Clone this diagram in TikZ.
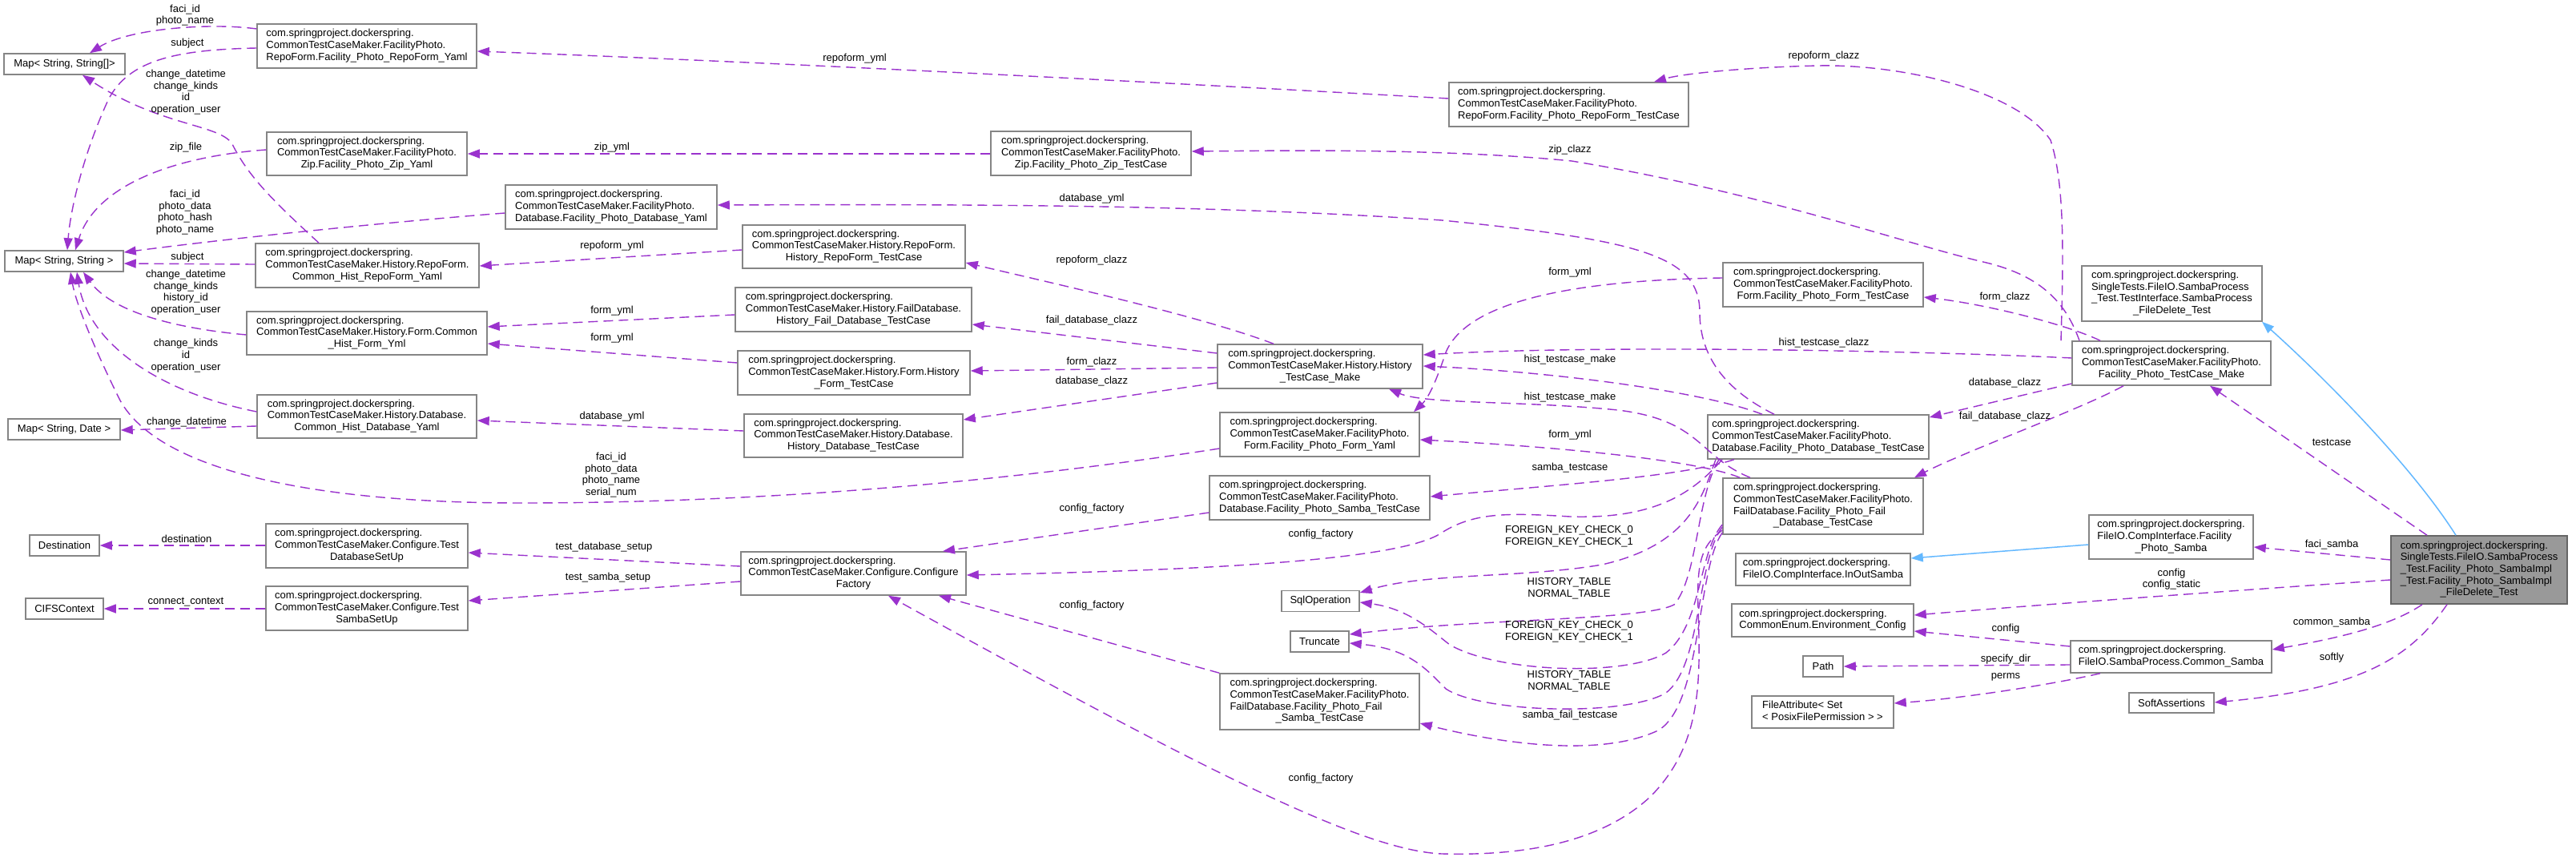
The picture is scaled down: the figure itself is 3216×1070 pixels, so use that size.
\documentclass[tikz,border=0pt]{standalone}
\usepackage{fontspec}
\setmainfont{Liberation Sans}
\usetikzlibrary{arrows.meta}
\definecolor{edgec}{HTML}{9A32CD}
\definecolor{inhc}{HTML}{63B8FF}
\definecolor{boxc}{HTML}{858585}
\definecolor{mainfill}{HTML}{999999}
\newcommand\nt[2]{\begin{tabular}{@{}l@{}}#1\\\multicolumn{1}{@{}c@{}}{#2}\end{tabular}}
\newcommand\fs{\fontsize{13}{14.7}\selectfont}
\begin{document}
\begin{tikzpicture}[x=1pt,y=-1pt,
 cbox/.style={draw=boxc, line width=1.5pt, fill=white, inner sep=0pt, font=\fs, anchor=center},
 mainbox/.style={cbox, fill=mainfill, draw=black!60},
 useedge/.style={draw=edgec, line width=1.4pt, dash pattern=on 12pt off 7pt, -{Triangle[length=15pt,width=11pt]}},
 inh/.style={draw=inhc, line width=1.5pt, -{Triangle[length=15pt,width=11pt]}},
 lbl/.style={font=\fs, align=center, inner sep=0pt}]
\fill[white] (0,0) rectangle (3216,1070);
\useasboundingbox (0,0) rectangle (3216,1070);

% ---------------- nodes ----------------
\node[cbox,minimum width=151pt,minimum height=26pt] (mapSS) at (80.5,80) {Map< String, String[]>};
\node[cbox,minimum width=148pt,minimum height=26pt] (mapS) at (80,326) {Map< String, String >};
\node[cbox,minimum width=140pt,minimum height=26pt] (mapD) at (80,536) {Map< String, Date >};
\node[cbox,minimum width=87pt,minimum height=26pt] (dest) at (80.5,681) {Destination};
\node[cbox,minimum width=97pt,minimum height=26pt] (cifs) at (80.5,760) {CIFSContext};

\node[cbox,minimum width=274pt,minimum height=55pt] (rfy) at (458,57.5) {\nt{com.springproject.dockerspring.\\CommonTestCaseMaker.FacilityPhoto.}{RepoForm.Facility\_Photo\_RepoForm\_Yaml}};
\node[cbox,minimum width=250pt,minimum height=54pt] (zipy) at (458,192) {\nt{com.springproject.dockerspring.\\CommonTestCaseMaker.FacilityPhoto.}{Zip.Facility\_Photo\_Zip\_Yaml}};
\node[cbox,minimum width=279pt,minimum height=55pt] (chry) at (458.5,331.5) {\nt{com.springproject.dockerspring.\\CommonTestCaseMaker.History.RepoForm.}{Common\_Hist\_RepoForm\_Yaml}};
\node[cbox,minimum width=300pt,minimum height=54pt] (chfy) at (458,416) {\nt{com.springproject.dockerspring.\\CommonTestCaseMaker.History.Form.Common}{\_Hist\_Form\_Yml}};
\node[cbox,minimum width=274pt,minimum height=54pt] (chdy) at (458,520) {\nt{com.springproject.dockerspring.\\CommonTestCaseMaker.History.Database.}{Common\_Hist\_Database\_Yaml}};
\node[cbox,minimum width=252pt,minimum height=55pt] (tdsu) at (458,681.5) {\nt{com.springproject.dockerspring.\\CommonTestCaseMaker.Configure.Test}{DatabaseSetUp}};
\node[cbox,minimum width=252pt,minimum height=55pt] (tssu) at (458,759.5) {\nt{com.springproject.dockerspring.\\CommonTestCaseMaker.Configure.Test}{SambaSetUp}};

\node[cbox,minimum width=264pt,minimum height=55pt] (fdby) at (763,258.5) {\nt{com.springproject.dockerspring.\\CommonTestCaseMaker.FacilityPhoto.}{Database.Facility\_Photo\_Database\_Yaml}};

\node[cbox,minimum width=278pt,minimum height=54pt] (hrtc) at (1066,308) {\nt{com.springproject.dockerspring.\\CommonTestCaseMaker.History.RepoForm.}{History\_RepoForm\_TestCase}};
\node[cbox,minimum width=295pt,minimum height=55pt] (hfdtc) at (1065.5,386.5) {\nt{com.springproject.dockerspring.\\CommonTestCaseMaker.History.FailDatabase.}{History\_Fail\_Database\_TestCase}};
\node[cbox,minimum width=290pt,minimum height=55pt] (hftc) at (1066,465.5) {\nt{com.springproject.dockerspring.\\CommonTestCaseMaker.History.Form.History}{\_Form\_TestCase}};
\node[cbox,minimum width=273pt,minimum height=54pt] (hdtc) at (1065.5,544) {\nt{com.springproject.dockerspring.\\CommonTestCaseMaker.History.Database.}{History\_Database\_TestCase}};
\node[cbox,minimum width=281pt,minimum height=54pt] (cf) at (1065.5,716) {\nt{com.springproject.dockerspring.\\CommonTestCaseMaker.Configure.Configure}{Factory}};

\node[cbox,minimum width=250pt,minimum height=55pt] (ziptc) at (1362,191.5) {\nt{com.springproject.dockerspring.\\CommonTestCaseMaker.FacilityPhoto.}{Zip.Facility\_Photo\_Zip\_TestCase}};

\node[cbox,minimum width=256pt,minimum height=55pt] (htm) at (1648,457.5) {\nt{com.springproject.dockerspring.\\CommonTestCaseMaker.History.History}{\_TestCase\_Make}};
\node[cbox,minimum width=249pt,minimum height=55pt] (fpfy) at (1647.5,542.5) {\nt{com.springproject.dockerspring.\\CommonTestCaseMaker.FacilityPhoto.}{Form.Facility\_Photo\_Form\_Yaml}};
\node[cbox,minimum width=275pt,minimum height=55pt] (fpstc) at (1647.5,621.5) {\nt{com.springproject.dockerspring.\\CommonTestCaseMaker.FacilityPhoto.}{Database.Facility\_Photo\_Samba\_TestCase}};
\node[cbox,minimum width=97pt,minimum height=26pt] (sqlop) at (1648.5,750.5) {SqlOperation};
\node[cbox,minimum width=73pt,minimum height=26pt] (trunc) at (1647.5,801) {Truncate};
\node[cbox,minimum width=249pt,minimum height=70pt] (fbstc) at (1647.5,876) {\nt{com.springproject.dockerspring.\\CommonTestCaseMaker.FacilityPhoto.\\FailDatabase.Facility\_Photo\_Fail}{\_Samba\_TestCase}};

\node[cbox,minimum width=299pt,minimum height=55pt] (rftc) at (1958.5,130.5) {\nt{com.springproject.dockerspring.\\CommonTestCaseMaker.FacilityPhoto.}{RepoForm.Facility\_Photo\_RepoForm\_TestCase}};

\node[cbox,minimum width=250pt,minimum height=55pt] (fftc) at (2276,355.5) {\nt{com.springproject.dockerspring.\\CommonTestCaseMaker.FacilityPhoto.}{Form.Facility\_Photo\_Form\_TestCase}};
\node[cbox,minimum width=276pt,minimum height=55pt] (fdtc) at (2270,545.5) {\nt{com.springproject.dockerspring.\\CommonTestCaseMaker.FacilityPhoto.}{Database.Facility\_Photo\_Database\_TestCase}};
\node[cbox,minimum width=250pt,minimum height=70pt] (ffdtc) at (2276,632) {\nt{com.springproject.dockerspring.\\CommonTestCaseMaker.FacilityPhoto.\\FailDatabase.Facility\_Photo\_Fail}{\_Database\_TestCase}};
\node[cbox,minimum width=218pt,minimum height=40pt] (ios) at (2276,711) {\nt{com.springproject.dockerspring.}{FileIO.CompInterface.InOutSamba}};
\node[cbox,minimum width=227pt,minimum height=41pt] (env) at (2275.5,774.5) {\nt{com.springproject.dockerspring.}{CommonEnum.Environment\_Config}};
\node[cbox,minimum width=50pt,minimum height=26pt] (path) at (2276,832) {Path};
\node[cbox,minimum width=177pt,minimum height=40pt] (fattr) at (2275.5,889) {\nt{FileAttribute< Set}{< PosixFilePermission > >}};

\node[cbox,minimum width=225pt,minimum height=69pt] (sfdt) at (2711.5,366.5) {\nt{com.springproject.dockerspring.\\SingleTests.FileIO.SambaProcess\\\_Test.TestInterface.SambaProcess}{\_FileDelete\_Test}};
\node[cbox,minimum width=248pt,minimum height=55pt] (fptm) at (2711,453.5) {\nt{com.springproject.dockerspring.\\CommonTestCaseMaker.FacilityPhoto.}{Facility\_Photo\_TestCase\_Make}};
\node[cbox,minimum width=205pt,minimum height=55pt] (fps) at (2710.5,670.5) {\nt{com.springproject.dockerspring.\\FileIO.CompInterface.Facility}{\_Photo\_Samba}};
\node[cbox,minimum width=251pt,minimum height=40pt] (cs) at (2710.5,820) {\nt{com.springproject.dockerspring.}{FileIO.SambaProcess.Common\_Samba}};
\node[cbox,minimum width=106pt,minimum height=25pt] (sa) at (2711,877.5) {SoftAssertions};

\node[mainbox,minimum width=220pt,minimum height=85pt] (main) at (3095,711.5) {\nt{com.springproject.dockerspring.\\SingleTests.FileIO.SambaProcess\\\_Test.Facility\_Photo\_SambaImpl\\\_Test.Facility\_Photo\_SambaImpl}{\_FileDelete\_Test}};

% ---------------- edges ----------------
\draw[useedge] (rfy.west |- 0,36) .. controls (260,28) and (160,36) .. (112,0 |- mapSS.north);
\draw[useedge] (rfy.west |- 0,60) .. controls (220,62) and (160,75) .. (135,125) .. controls (105,190) and (88,260) .. (84,0 |- mapS.north);
\draw[useedge] (398,0 |- chry.north) .. controls (340,250) and (310,220) .. (290,180) .. controls (275,155) and (200,158) .. (103,0 |- mapSS.south);
\draw[useedge] (zipy.west |- 0,187) .. controls (220,195) and (120,230) .. (94,0 |- mapS.north);
\draw[useedge] (fdby.west |- 0,266) .. controls (500,276) and (300,296) .. (mapS.east |- 0,315);
\draw[useedge] (chry.west |- 0,330) -- (mapS.east |- 0,329);
\draw[useedge] (chfy.west |- 0,418) .. controls (220,410) and (140,390) .. (104,0 |- mapS.south);
\draw[useedge] (chdy.west |- 0,514) .. controls (200,490) and (110,430) .. (96,0 |- mapS.south);
\draw[useedge] (chdy.west |- 0,532) -- (mapD.east |- 0,537);
\draw[useedge] (fpfy.west |- 0,560) .. controls (1200,610) and (900,628) .. (650,628) .. controls (400,628) and (200,590) .. (150,500) .. controls (120,440) and (95,380) .. (88,0 |- mapS.south);
\draw[useedge] (tdsu.west |- 0,681) -- (dest.east |- 0,681);
\draw[useedge] (tssu.west |- 0,760) -- (cifs.east |- 0,760);

\draw[useedge] (rftc.west |- 0,123) .. controls (1400,100) and (900,75) .. (rfy.east |- 0,64);
\draw[useedge] (ziptc.west |- 0,192) -- (zipy.east |- 0,192);
\draw[useedge] (2215,0 |- fdtc.north) .. controls (2160,490) and (2122,450) .. (2122,390) .. controls (2122,320) and (2050,300) .. (1800,275) .. controls (1500,255) and (1200,255) .. (fdby.east |- 0,256);
\draw[useedge] (hrtc.west |- 0,312) -- (chry.east |- 0,332);
\draw[useedge] (hftc.west |- 0,453) -- (chfy.east |- 0,429);
\draw[useedge] (hfdtc.west |- 0,393) -- (chfy.east |- 0,408);
\draw[useedge] (hdtc.west |- 0,538) -- (chdy.east |- 0,525);
\draw[useedge] (cf.west |- 0,707) -- (tdsu.east |- 0,690);
\draw[useedge] (cf.west |- 0,726) -- (tssu.east |- 0,750);

\draw[useedge] (1590,0 |- htm.north) .. controls (1500,395) and (1320,355) .. (hrtc.east |- 0,328);
\draw[useedge] (htm.west |- 0,441) -- (hfdtc.east |- 0,405);
\draw[useedge] (htm.west |- 0,459) -- (hftc.east |- 0,463);
\draw[useedge] (htm.west |- 0,478) -- (hdtc.east |- 0,524);
\draw[useedge] (fpstc.west |- 0,640) -- (1177,0 |- cf.north);
\draw[useedge] (2150,0 |- fdtc.south) .. controls (2110,620) and (2060,648) .. (1960,645) .. controls (1880,640) and (1840,640) .. (1800,665) .. controls (1750,700) and (1500,712) .. (cf.east |- 0,718);
\draw[useedge] (fbstc.north west) -- (1172,0 |- cf.south);
\draw[useedge] (ffdtc.west |- 0,662) .. controls (2125,680) and (2118,700) .. (2120,760) .. controls (2123,850) and (2125,930) .. (2060,995) .. controls (1990,1060) and (1880,1068) .. (1800,1066) .. controls (1700,1062) and (1500,960) .. (1109,0 |- cf.south);

\draw[useedge] (ffdtc.west |- 0,655) .. controls (2120,690) and (2125,780) .. (2080,815) .. controls (2030,845) and (1870,840) .. (1810,805) .. controls (1790,790) and (1760,760) .. (sqlop.east |- 0,752);
\draw[useedge] (ffdtc.west |- 0,658) .. controls (2118,700) and (2125,830) .. (2080,865) .. controls (2030,895) and (1850,890) .. (1805,860) .. controls (1780,835) and (1760,810) .. (trunc.east |- 0,803);
\draw[useedge] (ffdtc.west |- 0,665) .. controls (2118,710) and (2125,880) .. (2070,912) .. controls (2000,945) and (1880,930) .. (fbstc.east |- 0,903);
\draw[useedge] (2142,0 |- fdtc.south) .. controls (2125,620) and (2110,680) .. (2000,705) .. controls (1900,722) and (1780,715) .. (sqlop.east |- 0,740);
\draw[useedge] (2146,0 |- fdtc.south) .. controls (2118,620) and (2120,720) .. (2090,755) .. controls (2050,775) and (1850,772) .. (trunc.east |- 0,792);
\draw[useedge] (2165,0 |- fdtc.south) .. controls (2100,595) and (1950,605) .. (fpstc.east |- 0,620);
\draw[useedge] (2172,0 |- ffdtc.north) .. controls (2120,575) and (1950,558) .. (fpfy.east |- 0,549);
\draw[useedge] (2185,0 |- ffdtc.north) .. controls (2120,570) and (2125,525) .. (2020,512) .. controls (1900,500) and (1780,505) .. (1734,0 |- htm.south);
\draw[useedge] (2200,0 |- fdtc.north) .. controls (2130,490) and (1950,465) .. (htm.east |- 0,457);
\draw[useedge] (fftc.west |- 0,347) .. controls (1950,350) and (1830,380) .. (1805,440) .. controls (1795,470) and (1785,495) .. (1765,0 |- fpfy.north);

\draw[useedge] (2573,0 |- fptm.north) .. controls (2576,320) and (2578,230) .. (2560,175) .. controls (2520,115) and (2380,80) .. (2270,82) .. controls (2180,84) and (2100,92) .. (2065,0 |- rftc.north);
\draw[useedge] (2596,0 |- fptm.north) .. controls (2580,380) and (2550,345) .. (2480,328) .. controls (2380,305) and (2200,240) .. (1962,201) .. controls (1800,185) and (1600,188) .. (ziptc.east |- 0,189);
\draw[useedge] (2622,0 |- fptm.north) .. controls (2580,405) and (2480,380) .. (fftc.east |- 0,371);
\draw[useedge] (fptm.west |- 0,447) .. controls (2400,438) and (2000,430) .. (htm.east |- 0,443);
\draw[useedge] (fptm.west |- 0,479) -- (fdtc.east |- 0,521);
\draw[useedge] (2651,0 |- fptm.south) .. controls (2600,510) and (2450,565) .. (2390,0 |- ffdtc.north);

\draw[useedge] (3030,0 |- main.north) -- (2759,0 |- fptm.south);
\draw[inh] (3066,0 |- main.north) .. controls (3010,580) and (2900,470) .. (2824,0 |- sfdt.south);
\draw[inh] (fps.west |- 0,680) -- (ios.east |- 0,697);
\draw[useedge] (main.west |- 0,699) -- (fps.east |- 0,683);
\draw[useedge] (main.west |- 0,724) .. controls (2750,740) and (2550,755) .. (env.east |- 0,768);
\draw[useedge] (cs.west |- 0,807) -- (env.east |- 0,788);
\draw[useedge] (cs.west |- 0,830) -- (path.east |- 0,832);
\draw[useedge] (2622,0 |- cs.south) .. controls (2560,855) and (2450,872) .. (fattr.east |- 0,878);
\draw[useedge] (3024,0 |- main.south) .. controls (2980,785) and (2900,800) .. (cs.east |- 0,811);
\draw[useedge] (3055,0 |- main.south) .. controls (3010,820) and (2950,860) .. (sa.east |- 0,877);

% ---------------- labels ----------------
\node[lbl] (l1) at (231,19) {faci\_id\\photo\_name};
\node[lbl] (l2) at (234,54) {subject};
\node[lbl] (l3) at (232,115) {change\_datetime\\change\_kinds\\id\\operation\_user};
\node[lbl] (l4) at (232,184) {zip\_file};
\node[lbl] (l5) at (231,265) {faci\_id\\photo\_data\\photo\_hash\\photo\_name};
\node[lbl] (l6) at (234,321) {subject};
\node[lbl] (l7) at (232,365) {change\_datetime\\change\_kinds\\history\_id\\operation\_user};
\node[lbl] (l8) at (232,444) {change\_kinds\\id\\operation\_user};
\node[lbl] (l9) at (233,527) {change\_datetime};
\node[lbl] (l10) at (233,673) {destination};
\node[lbl] (l11) at (232,752) {connect\_context};
\node[lbl] (l12) at (1067,73) {repoform\_yml};
\node[lbl] (l13) at (764,184) {zip\_yml};
\node[lbl] (l14) at (1363,248) {database\_yml};
\node[lbl] (l15) at (764,307) {repoform\_yml};
\node[lbl] (l16) at (1363,325) {repoform\_clazz};
\node[lbl] (l17) at (764,388) {form\_yml};
\node[lbl] (l18) at (764,422) {form\_yml};
\node[lbl] (l19) at (1363,400) {fail\_database\_clazz};
\node[lbl] (l20) at (1363,452) {form\_clazz};
\node[lbl] (l21) at (1363,476) {database\_clazz};
\node[lbl] (l22) at (764,520) {database\_yml};
\node[lbl] (l23) at (763,593) {faci\_id\\photo\_data\\photo\_name\\serial\_num};
\node[lbl] (l24) at (1363,635) {config\_factory};
\node[lbl] (l25) at (754,683) {test\_database\_setup};
\node[lbl] (l26) at (759,721) {test\_samba\_setup};
\node[lbl] (l27) at (1363,756) {config\_factory};
\node[lbl] (l28) at (2277,70) {repoform\_clazz};
\node[lbl] (l29) at (1960,187) {zip\_clazz};
\node[lbl] (l30) at (1960,340) {form\_yml};
\node[lbl] (l31) at (2503,371) {form\_clazz};
\node[lbl] (l32) at (2277,428) {hist\_testcase\_clazz};
\node[lbl] (l33) at (1960,449) {hist\_testcase\_make};
\node[lbl] (l34) at (2503,478) {database\_clazz};
\node[lbl] (l35) at (1960,496) {hist\_testcase\_make};
\node[lbl] (l36) at (2503,520) {fail\_database\_clazz};
\node[lbl] (l37) at (1960,543) {form\_yml};
\node[lbl] (l38) at (2911,552) {testcase};
\node[lbl] (l39) at (1960,584) {samba\_testcase};
\node[lbl] (l40) at (1649,667) {config\_factory};
\node[lbl] (l41) at (1959,670) {FOREIGN\_KEY\_CHECK\_0\\FOREIGN\_KEY\_CHECK\_1};
\node[lbl] (l42) at (2911,680) {faci\_samba};
\node[lbl] (l43) at (2711,723) {config\\config\_static};
\node[lbl] (l44) at (1959,735) {HISTORY\_TABLE\\NORMAL\_TABLE};
\node[lbl] (l45) at (2911,777) {common\_samba};
\node[lbl] (l46) at (2504,785) {config};
\node[lbl] (l47) at (1959,789) {FOREIGN\_KEY\_CHECK\_0\\FOREIGN\_KEY\_CHECK\_1};
\node[lbl] (l48) at (2504,823) {specify\_dir};
\node[lbl] (l49) at (2911,821) {softly};
\node[lbl] (l50) at (2504,845) {perms};
\node[lbl] (l51) at (1959,851) {HISTORY\_TABLE\\NORMAL\_TABLE};
\node[lbl] (l52) at (1960,893) {samba\_fail\_testcase};
\node[lbl] (l53) at (1649,972) {config\_factory};
\end{tikzpicture}
\end{document}
